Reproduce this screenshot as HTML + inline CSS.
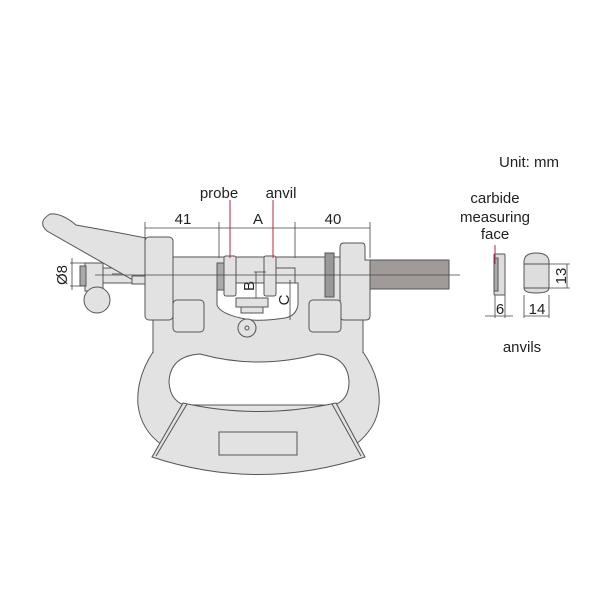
<!DOCTYPE html>
<html><head><meta charset="utf-8"><style>
html,body{margin:0;padding:0;background:#fff}
svg{display:block}
text{font-family:"Liberation Sans",sans-serif;fill:#222}
</style></head><body>
<svg width="600" height="600" viewBox="0 0 600 600" xmlns="http://www.w3.org/2000/svg">
<g stroke="#555" stroke-width="1" fill="#e2e2e2">
<path d="M153 300 L153 352 Q136 378 138 405 Q141 430 162 445 L355 445 Q377 428 379 405 Q381 378 363 352 L363 300 Z"/>
<path d="M200 354 Q258 370 318 354 Q348 356 349 382 Q349 400 334 405 L184 405 Q170 400 169 382 Q170 356 200 354 Z" fill="#fff"/>
<path d="M183 403 Q258 420 336 403 L365 457 Q258 492 152 457 Z"/>
<path d="M187 404 L156 456" fill="none"/>
<path d="M332 404 L361 456" fill="none"/>
<rect x="219" y="432" width="78" height="23" fill="#e2e2e2"/>
<rect x="160" y="257" width="190" height="33"/>
<rect x="153" y="288" width="210" height="45" stroke="none"/>
<line x1="153" y1="318" x2="153" y2="353"/>
<line x1="363" y1="318" x2="363" y2="353"/>
<!-- tube under lever -->
<rect x="103" y="268" width="42" height="15"/>
<rect x="85" y="263" width="18" height="28"/>
<rect x="80" y="266" width="6" height="20" fill="#aaa"/>
<circle cx="97" cy="300" r="13"/>
<line x1="112" y1="274" x2="130" y2="274" stroke="#999" stroke-width="2"/>
<!-- lever -->
<path d="M50 214 Q62 213 76 225 Q110 231 146 238 L146 284 L140 284 L47 231 Q37 222 50 214 Z"/>
<rect x="132" y="276" width="20" height="8"/>
<rect x="145" y="237" width="28" height="83" rx="4"/>
<path d="M340 247 Q340 243 344 243 L362 243 Q365 243 365 247 L365 260 L370 260 L370 316 Q370 320 366 320 L344 320 Q340 320 340 316 Z"/>
<rect x="173" y="300" width="31" height="32" rx="4"/>
<rect x="309" y="300" width="32" height="32" rx="4"/>
<path d="M217 283 L298 283 L298 305 Q296 316 285 318 Q258 322 245 319 Q220 314 217 305 Z" fill="#fff"/>
<rect x="236" y="298" width="32" height="9"/>
<rect x="241" y="307" width="22" height="6"/>
<circle cx="247" cy="328" r="9"/>
<circle cx="247" cy="328" r="2" fill="none"/>
<rect x="217" y="263" width="7" height="27" fill="#aaa"/>
<rect x="224" y="256" width="12" height="40" rx="2"/>
<rect x="276" y="268" width="19" height="15"/>
<rect x="264" y="256" width="12" height="40" rx="2"/>
<rect x="325" y="253" width="9" height="44" fill="#999"/>
<rect x="370" y="260" width="79" height="29" fill="#a09a98"/>
</g>
<line x1="95" y1="275" x2="460" y2="275" stroke="#444" stroke-width="0.8"/>
<g stroke="#444" stroke-width="0.8" fill="none">
<line x1="145" y1="228" x2="370" y2="228"/>
<line x1="145" y1="222" x2="145" y2="240"/>
<line x1="219" y1="222" x2="219" y2="258"/>
<line x1="295" y1="222" x2="295" y2="258"/>
<line x1="370" y1="222" x2="370" y2="258"/>
<line x1="72" y1="258" x2="72" y2="290"/>
<line x1="70" y1="263" x2="85" y2="263"/>
<line x1="70" y1="286" x2="85" y2="286"/>
<line x1="256" y1="272" x2="256" y2="298"/>
<line x1="254" y1="272" x2="266" y2="272"/>
<line x1="290" y1="280" x2="290" y2="320"/>
</g>
<line x1="230" y1="200" x2="230" y2="258" stroke="#c0213c" stroke-width="1"/>
<line x1="273" y1="200" x2="273" y2="258" stroke="#c0213c" stroke-width="1"/>
<text x="219" y="198" font-size="15" text-anchor="middle">probe</text>
<text x="281" y="198" font-size="15" text-anchor="middle">anvil</text>
<text x="183" y="224" font-size="15" text-anchor="middle">41</text>
<text x="258" y="224" font-size="15" text-anchor="middle">A</text>
<text x="333" y="224" font-size="15" text-anchor="middle">40</text>
<text transform="translate(67,275) rotate(-90)" font-size="15" text-anchor="middle">Ø8</text>
<text transform="translate(254,286) rotate(-90)" font-size="15" text-anchor="middle">B</text>
<text transform="translate(289,300) rotate(-90)" font-size="15" text-anchor="middle">C</text>
<text x="499" y="167" font-size="15">Unit: mm</text>
<text x="495" y="203" font-size="15" text-anchor="middle">carbide</text>
<text x="495" y="222" font-size="15" text-anchor="middle">measuring</text>
<text x="495" y="239" font-size="15" text-anchor="middle">face</text>
<g stroke="#555" stroke-width="1" fill="#ddd">
<rect x="494" y="254" width="11" height="41" rx="1"/>
<rect x="494" y="258" width="4" height="33" fill="#aaa"/>
<path d="M524 262 Q524 253 536 253 Q549 253 549 262 L549 288 Q549 293 536 293 Q524 293 524 288 Z"/>
<line x1="524" y1="264" x2="549" y2="264"/>
<line x1="524" y1="288" x2="549" y2="288"/>
</g>
<line x1="495" y1="245" x2="495" y2="264" stroke="#c0213c"/>
<g stroke="#444" stroke-width="0.8">
<line x1="495" y1="295" x2="495" y2="318"/>
<line x1="505" y1="295" x2="505" y2="318"/>
<line x1="485" y1="316" x2="513" y2="316"/>
<line x1="524" y1="295" x2="524" y2="318"/>
<line x1="549" y1="295" x2="549" y2="318"/>
<line x1="524" y1="316" x2="549" y2="316"/>
<line x1="549" y1="264" x2="570" y2="264"/>
<line x1="549" y1="288" x2="570" y2="288"/>
<line x1="567" y1="264" x2="567" y2="288"/>
</g>
<text x="500" y="314" font-size="15" text-anchor="middle">6</text>
<text x="537" y="314" font-size="15" text-anchor="middle">14</text>
<text transform="translate(566,276) rotate(-90)" font-size="15" text-anchor="middle">13</text>
<text x="522" y="352" font-size="15" text-anchor="middle">anvils</text>
</svg>
</body></html>
